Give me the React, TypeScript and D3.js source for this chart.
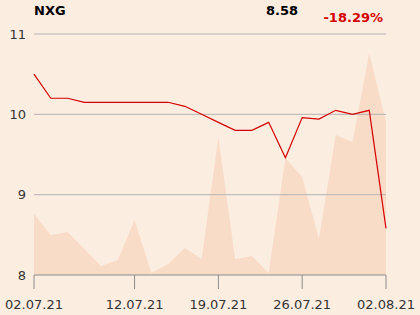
import React from "react";
import * as d3 from "d3";

const dates = ["02.07.21","05.07.21","06.07.21","07.07.21","08.07.21","09.07.21","12.07.21","13.07.21","14.07.21","15.07.21","16.07.21","19.07.21","20.07.21","21.07.21","22.07.21","23.07.21","26.07.21","27.07.21","28.07.21","29.07.21","30.07.21","02.08.21"];
const prices = [10.5,10.2,10.2,10.15,10.15,10.15,10.15,10.15,10.15,10.1,10.0,9.9,9.8,9.8,9.9,9.46,9.96,9.94,10.05,10.0,10.05,8.58];
const volumes = [61,40,43,26,9,15,55,2,11,27,16,138,16,19,2,117,98,36,140,133,222,153];
const xTicks = ["02.07.21","12.07.21","19.07.21","26.07.21","02.08.21"];
const yTicks = [8,9,10,11];
const title = "NXG";
const lastLabel = "8.58";
const changeLabel = "-18.29%";

export default function App() {
  const W = 420, H = 315;
  const left = 34, right = 386, top = 34, bottom = 275;
  const x = d3.scalePoint<string>().domain(dates).range([left, right]);
  const y = d3.scaleLinear().domain([8, 11]).range([bottom, top]);
  const yv = d3.scaleLinear().domain([0, 241]).range([bottom, top]);
  const area = d3.area<number>().x((_, i) => x(dates[i])!).y0(bottom).y1(d => yv(d));
  const line = d3.line<number>().x((_, i) => x(dates[i])!).y(d => y(d));
  const font = "DejaVu Sans, sans-serif";
  return (
    <svg width={W} height={H} style={{ position: "absolute", left: 0, top: 0, background: "#fcede1" }} fontFamily={font}>
      <rect x={0} y={0} width={W} height={H} fill="#fcede1" />
      <path d={area(volumes)!} fill="#f9dcc8" />
      {yTicks.filter(t => t !== 8).map(t => (
        <line key={t} x1={left} x2={right} y1={y(t)} y2={y(t)} stroke="#b4b4b4" strokeWidth={1} />
      ))}
      <line x1={left} x2={right} y1={bottom} y2={bottom} stroke="#8c8c8c" strokeWidth={1} />
      {yTicks.map(t => (
        <text key={t} x={26} y={y(t)} dy="0.35em" textAnchor="end" fontSize={13} fill="#333">{t}</text>
      ))}
      {xTicks.map(t => (
        <g key={t}>
          <line x1={x(t)} x2={x(t)} y1={bottom} y2={bottom + 14} stroke="#8c8c8c" strokeWidth={1} />
          <text x={x(t)} y={309} textAnchor="middle" fontSize={13} fill="#333">{t}</text>
        </g>
      ))}
      <path d={line(prices)!} fill="none" stroke="#d40000" strokeWidth={1.2} />
      <text x={34} y={15} fontSize={13} fontWeight="bold" fill="#000">{title}</text>
      <text x={298} y={15} textAnchor="end" fontSize={13} fontWeight="bold" fill="#000">{lastLabel}</text>
      <text x={383} y={21.5} textAnchor="end" fontSize={13} fontWeight="bold" fill="#d40000">{changeLabel}</text>
    </svg>
  );
}
